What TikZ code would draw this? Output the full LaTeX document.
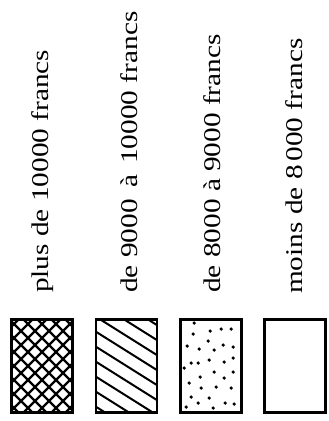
\documentclass[tikz,border=0pt]{standalone}
\usepackage{fontspec}
\setmainfont{Liberation Serif}
\newfontfamily\legendfont[FakeStretch=1.22]{Liberation Serif}
\usetikzlibrary{positioning}

\begin{document}
\begin{tikzpicture}[
        x=1pt, y=-1pt,
        legendbox/.style={draw, line width=2.6pt, minimum width=61pt, minimum height=93pt, inner sep=0pt},
        legendtext/.style={rotate=90, anchor=base west, inner sep=0pt, font=\legendfont\fontsize{24}{28}\selectfont},
        hatch/.style={line width=#1, line cap=butt}
    ]
        \useasboundingbox (0,0) rectangle (329,421);

        % Legend texts
        \node[legendtext] (txt1) at (48,293) {plus de 10000 francs};
        \node[legendtext] (txt2) at (137,293) {de 9000 \,à\, 10000 francs};
        \node[legendtext] (txt3) at (220,293) {de 8000 à 9000 francs};
        \node[legendtext] (txt4) at (302,294) {moins de 8\,000 francs};

        % Boxes
        \node[legendbox, path picture={
                \foreach \k in {-6,...,6} {
                    \draw[hatch=2.4pt] ([xshift=\k*14pt]path picture bounding box.center) ++(-60pt,-60pt) -- ++(120pt,120pt);
                    \draw[hatch=2.4pt] ([xshift=\k*14pt]path picture bounding box.center) ++(-60pt,60pt) -- ++(120pt,-120pt);
                }
            }] (box1) at (42,366) {};
        \node[legendbox, right=21pt of box1, path picture={
                \foreach \k in {-5,...,5}
                    \draw[hatch=2pt] ([yshift=\k*15pt]path picture bounding box.center) ++(-70pt,44pt) -- ++(140pt,-88pt);
            }] (box2) {};
        \node[legendbox, right=21pt of box2] (box3) {};
        \node[legendbox, right=20pt of box3] (box4) {};

        % Dots in box3
        \foreach \a/\b in {-17/-43, -18/-32, -1/-35, 10/-37, 20/-37, -3/-25, -24/-20, -12/-17,
                12/-21, 22/-19, 3/-16, -20/-3, -13/-3, -2/-6, 13/-4, 22/-8, -27/2, 3/6, 22/6,
                -11/11, 13/12, -22/17, -10/22, 5/21, 20/22, -20/31, -2/32, -13/37, 14/37,
                23/38, -25/41, 2/42}
            \fill ([shift={(\a,\b)}]box3.center) circle (1.8pt);

    \end{tikzpicture}
\end{document}
